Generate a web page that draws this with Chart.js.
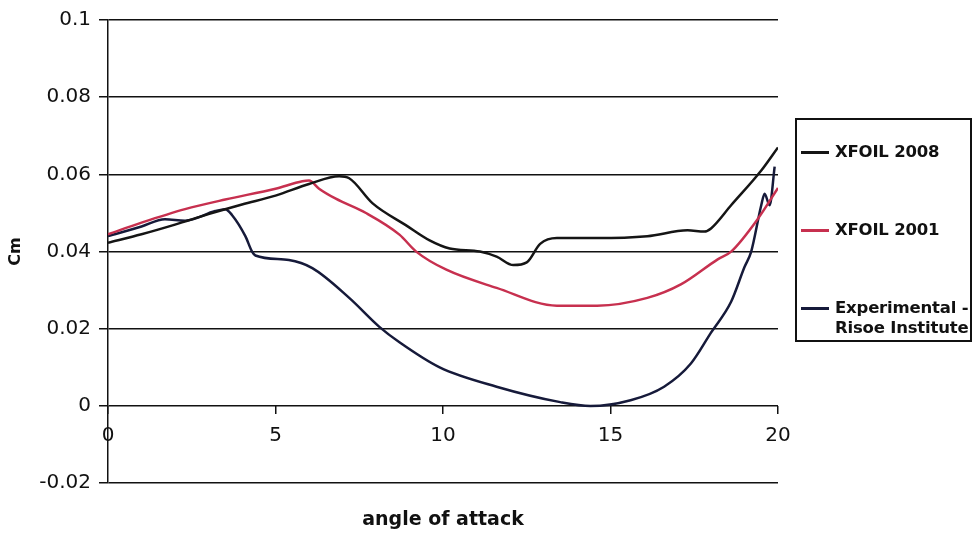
<!DOCTYPE html>
<html>
<head>
<meta charset="utf-8">
<script src="https://cdn.jsdelivr.net/npm/chart.js@4/dist/chart.umd.min.js"></script>
<style>
  body { margin: 0; background: #fff; }
  #wrap { position: relative; width: 977px; height: 546px; }
  #legend {
    position: absolute; left: 795px; top: 118px; width: 177px; height: 224px;
    box-sizing: border-box; border: 2px solid #111; background: #fff;
    margin: 0; padding: 22px 0 0 0; list-style: none;
    font: bold 16.5px "DejaVu Sans", sans-serif; color: #111; line-height: 20px;
  }
  #legend li { position: relative; height: 78px; padding-left: 38px; white-space: pre; letter-spacing: -0.2px; }
  #legend li span {
    position: absolute; left: 4px; top: 9px; width: 28px; height: 2.5px;
  }
</style>
</head>
<body>
<div id="wrap">
  <canvas id="cmChart" width="977" height="546"></canvas>
  <ul id="legend"></ul>
</div>
<script>
// series labels
const seriesNames = ['XFOIL 2008', 'XFOIL 2001', 'Experimental - Risoe Institute'];

// XFOIL 2008
const aoa2008 = [0, 1, 2, 3, 4, 5, 6, 6.9, 7.2, 7.9, 8.9, 9.6, 10.2, 11.1, 11.6, 12.1, 12.5, 12.9, 13.4, 14.6, 16.1, 17.3, 17.8, 18.0, 18.6, 19.5, 20];
const cm2008  = [0.0423, 0.0445, 0.047, 0.0497, 0.0522, 0.0545, 0.0575, 0.0595, 0.059, 0.0525, 0.0468, 0.0429, 0.0408, 0.040, 0.0387, 0.0365, 0.0372, 0.042, 0.0435, 0.0435, 0.044, 0.0455, 0.0452, 0.046, 0.052, 0.061, 0.067];

// XFOIL 2001
const aoa2001 = [0, 1, 2.3, 3.5, 5.0, 5.8, 6.0, 6.3, 6.8, 7.7, 8.7, 9.2, 10.1, 11.6, 13.4, 14.6, 16.1, 17.1, 18.2, 18.6, 19.4, 20];
const cm2001  = [0.0445, 0.0475, 0.051, 0.0535, 0.0563, 0.0582, 0.0584, 0.0563, 0.0537, 0.050, 0.0444, 0.040, 0.0353, 0.0306, 0.026, 0.026, 0.028, 0.0315, 0.038, 0.040, 0.0485, 0.0565];

// Experimental - Risoe Institute
const aoaExp = [0, 1.0, 1.7, 2.3, 3.2, 3.5, 3.7, 4.1, 4.3, 4.4, 5.4, 6.1, 7.2, 8.1, 8.7, 9.9, 11.6, 13.5, 14.4, 15.6, 16.6, 17.4, 18.0, 18.6, 19.0, 19.2, 19.5, 19.6, 19.75, 19.9];
const cmExp  = [0.044, 0.0465, 0.0484, 0.048, 0.0505, 0.051, 0.0495, 0.044, 0.040, 0.039, 0.0378, 0.0357, 0.028, 0.0205, 0.0165, 0.010, 0.005, 0.001, 0.000, 0.0015, 0.005, 0.011, 0.019, 0.027, 0.036, 0.040, 0.052, 0.055, 0.052, 0.062];

const xTicksStep = 5;
const yTicksStep = 0.02;

const toPoints = (xs, ys) => xs.map((x, i) => ({ x: x, y: ys[i] }));

const lineStyle = (color) => ({
  borderColor: color,
  backgroundColor: color,
  borderWidth: 2.5,
  pointRadius: 0,
  fill: false,
  cubicInterpolationMode: 'monotone',
  xAxisID: 'x',
  yAxisID: 'y'
});

const chart = new Chart(document.getElementById('cmChart'), {
  type: 'line',
  data: {
    datasets: [
      Object.assign({ label: seriesNames[0], data: toPoints(aoa2008, cm2008) }, lineStyle('#151515')),
      Object.assign({ label: seriesNames[1], data: toPoints(aoa2001, cm2001) }, lineStyle('#c7304f')),
      Object.assign({ label: seriesNames[2], data: toPoints(aoaExp, cmExp) }, lineStyle('#161a3a'))
    ]
  },
  options: {
    responsive: false,
    animation: false,
    layout: { padding: { top: 4, right: 199, bottom: 0, left: 0 } },
    plugins: { legend: { display: false }, tooltip: { enabled: false } },
    scales: {
      x: {
        type: 'linear',
        position: { y: 0 },
        min: 0,
        max: 20,
        afterFit: (s) => { s.height = 0; },
        ticks: {
          stepSize: xTicksStep,
          color: '#111',
          padding: 10,
          font: { family: 'DejaVu Sans', size: 20 }
        },
        grid: { drawOnChartArea: false, color: '#111', lineWidth: 1.5, tickLength: 8 },
        border: { display: false }
      },
      x2: {
        type: 'linear',
        position: 'bottom',
        min: 0,
        max: 20,
        ticks: { display: false },
        grid: { display: false, drawTicks: false },
        border: { display: false },
        title: {
          display: true,
          text: 'angle of attack',
          color: '#111',
          padding: { top: 25, bottom: 15 },
          font: { family: 'DejaVu Sans', size: 19, weight: 'bold' }
        }
      },
      y: {
        type: 'linear',
        position: 'left',
        min: -0.02,
        max: 0.1,
        afterFit: (s) => { s.width = 108; },
        ticks: {
          stepSize: yTicksStep,
          color: '#111',
          padding: 8,
          font: { family: 'DejaVu Sans', size: 20 },
          callback: (v) => String(+v.toFixed(2))
        },
        grid: { color: '#111', lineWidth: 1.5, tickLength: 9 },
        border: { color: '#111', width: 1.5 },
        title: {
          display: true,
          text: 'Cm',
          color: '#111',
          padding: { top: 6, bottom: 0 },
          font: { family: 'DejaVu Sans', size: 16, weight: 'bold' }
        }
      }
    }
  }
});

// legend box built from the datasets; long label breaks after the dash
const legendEl = document.getElementById('legend');
chart.data.datasets.forEach((ds) => {
  const li = document.createElement('li');
  const sw = document.createElement('span');
  sw.style.background = ds.borderColor;
  li.appendChild(sw);
  li.appendChild(document.createTextNode(ds.label.replace(' - ', ' -\n')));
  legendEl.appendChild(li);
});
</script>
</body>
</html>
